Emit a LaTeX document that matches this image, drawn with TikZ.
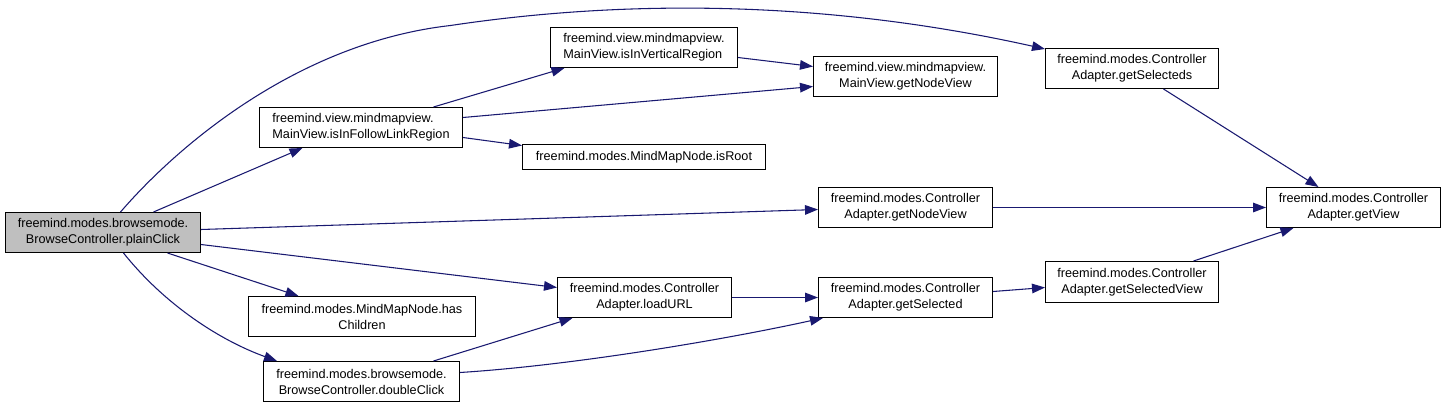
\documentclass[tikz,border=0pt]{standalone}
\usepackage{fontspec}
\setmainfont{Liberation Sans}
\usetikzlibrary{arrows.meta,calc}
\definecolor{edgeblue}{HTML}{191970}
\definecolor{rootgray}{HTML}{BFBFBF}
\begin{document}
\begin{tikzpicture}[x=0.75pt,y=-0.75pt,
 box/.style={draw=black,line width=0.75pt,fill=white,inner sep=0pt,align=center,font=\fontsize{9.5}{12}\selectfont},
 wh/.style 2 args={minimum width=#1*0.75pt,minimum height=#2*0.75pt},
 edge/.style={draw=edgeblue,line width=0.8pt,-{Triangle[length=9.75pt,width=7.2pt]}}]
\useasboundingbox (0,0) rectangle (1445,407);
\begin{scope}[shift={(0.5,0.5)}]
\node[box,wh={195}{40},fill=rootgray] (pc) at (102.5,232) {freemind.modes.browsemode.\\BrowseController.plainClick};
\node[box,wh={203}{40},align=left] (ifl) at (360.5,127) {freemind.view.mindmapview.\\MainView.isInFollowLinkRegion};
\node[box,wh={187}{40},align=left] (ivr) at (643.5,47) {freemind.view.mindmapview.\\MainView.isInVerticalRegion};
\node[box,wh={184}{40}] (mvg) at (905,76) {freemind.view.mindmapview.\\MainView.getNodeView};
\node[box,wh={243}{25}] (root) at (643.5,156.5) {freemind.modes.MindMapNode.isRoot};
\node[box,wh={173}{40}] (gss) at (1131.5,68) {freemind.modes.Controller\\Adapter.getSelecteds};
\node[box,wh={174}{40}] (gv) at (1353,207) {freemind.modes.Controller\\Adapter.getView};
\node[box,wh={174}{40}] (cgn) at (905,207) {freemind.modes.Controller\\Adapter.getNodeView};
\node[box,wh={174}{40}] (url) at (644,297) {freemind.modes.Controller\\Adapter.loadURL};
\node[box,wh={174}{40}] (gsel) at (905,297) {freemind.modes.Controller\\Adapter.getSelected};
\node[box,wh={173}{41}] (gsv) at (1131.5,281.5) {freemind.modes.Controller\\Adapter.getSelectedView};
\node[box,wh={227}{40}] (has) at (361.5,316) {freemind.modes.MindMapNode.has\\Children};
\node[box,wh={196}{40}] (dbl) at (361,381) {freemind.modes.browsemode.\\BrowseController.doubleClick};

\draw[edge] ($(pc.north)+(17.5,0)$) .. controls (180,142) and (300,42) .. (450,25) .. controls (650,-5) and (850,5) .. ($(gss.north west)+(0,1)$);
\draw[edge] ($(pc.north)+(50.5,0)$) -- ($(ifl.south)+(-58.5,0)$);
\draw[edge] ($(ifl.north)+(72.5,0)$) -- ($(ivr.south)+(-79.5,0)$);
\draw[edge] ($(ifl.east)+(0,-10)$) -- ($(mvg.west)+(0,10)$);
\draw[edge] ($(ivr.east)+(0,10)$) -- ($(mvg.west)+(0,-10)$);
\draw[edge] ($(ifl.east)+(0,10)$) -- ($(root.west)+(0,-11.5)$);
\draw[edge] ($(gss.south)+(31.5,0)$) -- ($(gv.north)+(-35,0)$);
\draw[edge] ($(pc.east)+(0,-3)$) -- ($(cgn.west)+(0,2)$);
\draw[edge] (cgn.east) -- (gv.west);
\draw[edge] ($(pc.east)+(0,12)$) -- ($(url.west)+(0,-10)$);
\draw[edge] ($(pc.south)+(64.5,0)$) -- ($(has.north)+(-63.5,0)$);
\draw[edge] ($(pc.south)+(20.5,0)$) .. controls (165,305) and (220,340) .. ($(dbl.north west)+(14,0)$);
\draw[edge] ($(dbl.north)+(72,0)$) -- ($(url.south)+(-72,0)$);
\draw[edge] ($(dbl.east)+(0,-9)$) .. controls (570,365) and (720,340) .. ($(gsel.south west)+(5,0)$);
\draw[edge] (url.east) -- (gsel.west);
\draw[edge] ($(gsel.east)+(0,-6)$) -- ($(gsv.west)+(0,5.5)$);
\draw[edge] ($(gsv.north)+(61.5,0)$) -- ($(gv.south)+(-60,0)$);
\end{scope}
\end{tikzpicture}
\end{document}
